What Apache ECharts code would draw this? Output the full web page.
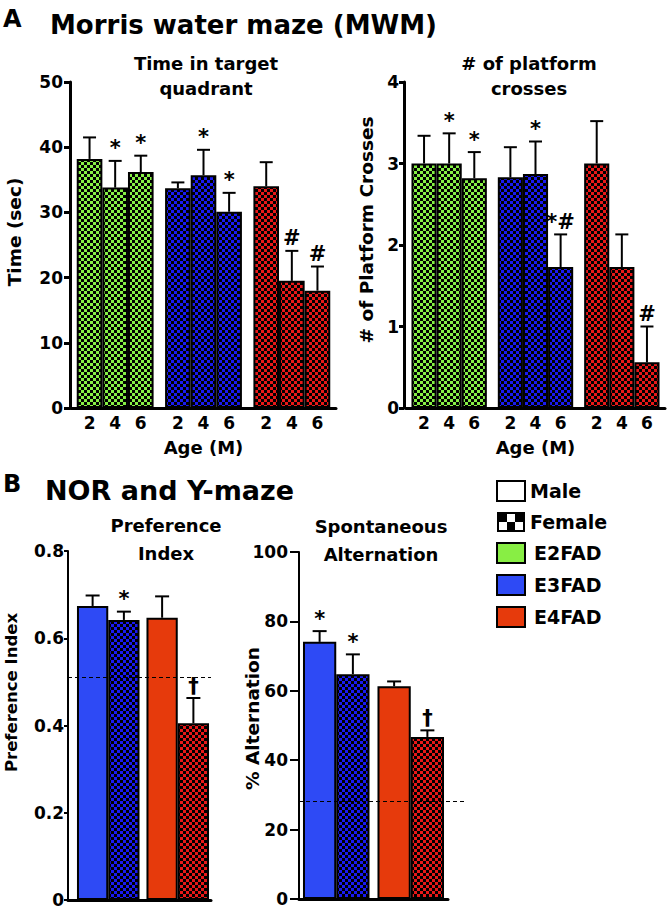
<!DOCTYPE html>
<html>
<head>
<meta charset="utf-8">
<script src="https://cdn.jsdelivr.net/npm/echarts@6/dist/echarts.min.js"></script>
<style>
html,body{margin:0;padding:0;background:#fff;}
#chart{width:667px;height:911px;}
</style>
</head>
<body>
<div id="chart"></div>
<script>
// ---------------- DATA ----------------
const mwmGroups = ['E2FAD', 'E3FAD', 'E4FAD'];
const ageLabels = ['2', '4', '6'];

// Time in target quadrant (sec): mean and SEM per genotype, ages 2/4/6 M
const timeMean = [[38.2, 33.8, 36.2], [33.7, 35.7, 30.1], [34.0, 19.5, 18.0]];
const timeSem  = [[3.3, 4.1, 2.5], [0.9, 3.9, 2.9], [3.7, 4.6, 3.7]];
const timeMarks = [['', '*', '*'], ['', '*', '*'], ['', '#', '#']];

// # of platform crosses
const crossMean = [[3.0, 3.0, 2.82], [2.83, 2.87, 1.73], [3.0, 1.73, 0.56]];
const crossSem  = [[0.34, 0.37, 0.32], [0.37, 0.40, 0.40], [0.52, 0.40, 0.44]];
const crossMarks = [['', '*', '*'], ['', '*', '*#'], ['', '', '#']];

const norGroups = ['E3FAD', 'E4FAD'];
const sexes = ['Male', 'Female'];

// Preference index (NOR): per sex, per genotype
const prefMean = [[0.674, 0.647], [0.642, 0.405]];
const prefSem  = [[0.024, 0.049], [0.019, 0.058]];
const prefMarks = [['', ''], ['*', '\u2020']];
const prefChance = 0.508;

// Spontaneous alternation (%)
const altMean = [[74.1, 61.3], [64.8, 46.7]];
const altSem  = [[3.1, 1.4], [5.7, 1.9]];
const altMarks = [['*', ''], ['*', '\u2020']];
const altChance = 28.2;

const timeTicks = {min: 0, max: 50, interval: 10};
const crossTicks = {min: 0, max: 4, interval: 1};
const prefTicks = {min: 0, max: 0.8, interval: 0.2};
const altTicks = {min: 0, max: 100, interval: 20};

// ---------------- STYLE ----------------
const FONT = 'DejaVu Sans';
const genoChecker = {E2FAD: '#86F045', E3FAD: '#1A1AF2', E4FAD: '#E81818'};
const genoSolid = {E2FAD: '#88EE44', E3FAD: '#2E4AF5', E4FAD: '#E63A0C'};

function checker(color) {
  const s = 3;
  const c = document.createElement('canvas');
  c.width = c.height = 2 * s;
  const g = c.getContext('2d');
  g.fillStyle = color; g.fillRect(0, 0, 2 * s, 2 * s);
  g.fillStyle = '#000'; g.fillRect(0, 0, s, s); g.fillRect(s, s, s, s);
  return {image: c.toDataURL(), repeat: 'repeat', imageWidth: 2 * s, imageHeight: 2 * s};
}
function femaleIcon() {
  const c = document.createElement('canvas');
  c.width = 28; c.height = 20;
  const g = c.getContext('2d');
  g.fillStyle = '#fff'; g.fillRect(0, 0, 28, 20);
  g.fillStyle = '#000';
  const cw = 24 / 3, ch = 16 / 2;
  for (let r = 0; r < 2; r++) for (let q = 0; q < 3; q++)
    if ((r + q) % 2 === 0) g.fillRect(2 + q * cw, 2 + r * ch, cw, ch);
  g.lineWidth = 2; g.strokeStyle = '#000'; g.strokeRect(1, 1, 26, 18);
  return 'image://' + c.toDataURL();
}

function errorBars(axisIdx, k, n, gapFrac, data, marks, capW, lw) {
  return {
    type: 'custom', xAxisIndex: axisIdx, yAxisIndex: axisIdx, data: data,
    encode: {x: 0, y: [1, 2]}, z: 5, silent: true,
    renderItem: function (params, api) {
      const band = api.size([1, 0])[0];
      const bw = band * (1 - gapFrac) / n;
      const off = (k - (n - 1) / 2) * bw;
      const base = api.coord([api.value(0), api.value(1)]);
      const tip = api.coord([api.value(0), api.value(2)]);
      const x = base[0] + off;
      const children = [
        {type: 'line', shape: {x1: x, y1: base[1], x2: x, y2: tip[1]}, style: {stroke: '#000', lineWidth: lw}},
        {type: 'line', shape: {x1: x - capW / 2, y1: tip[1], x2: x + capW / 2, y2: tip[1]}, style: {stroke: '#000', lineWidth: lw}}
      ];
      const t = marks[params.dataIndex];
      if (t) children.push({type: 'text', x: x, y: tip[1] - 2, style: {text: t, textAlign: 'center', textVerticalAlign: 'bottom', fontSize: 21, fontWeight: 'bold', fontFamily: FONT, fill: '#000'}});
      return {type: 'group', children: children};
    }
  };
}

const series = [];
const gapA1 = 0.13, gapA2 = 0.127, gapB1 = 0.10, gapB2 = 0.107;

function mwmSeries(axisIdx, gap, mean, sem, marks) {
  ageLabels.forEach(function (age, k) {
    series.push({
      type: 'bar', xAxisIndex: axisIdx, yAxisIndex: axisIdx, name: 'age' + age,
      barGap: '0%', barCategoryGap: (gap * 100) + '%',
      itemStyle: {borderColor: '#000', borderWidth: 2},
      label: {show: true, position: 'bottom', distance: 6, formatter: age, fontSize: 17, fontWeight: 'bold', fontFamily: FONT, color: '#000'},
      data: mwmGroups.map(function (g, gi) { return {value: mean[gi][k], itemStyle: {color: checker(genoChecker[g])}}; })
    });
  });
  ageLabels.forEach(function (age, k) {
    series.push(errorBars(axisIdx, k, ageLabels.length, gap,
      mwmGroups.map(function (g, gi) { return [gi, mean[gi][k], mean[gi][k] + sem[gi][k]]; }),
      mwmGroups.map(function (g, gi) { return marks[gi][k]; }), 13, 2));
  });
}
function sexSeries(axisIdx, gap, mean, sem, marks) {
  sexes.forEach(function (s, k) {
    series.push({
      type: 'bar', xAxisIndex: axisIdx, yAxisIndex: axisIdx, name: 'nor' + s,
      barGap: '0%', barCategoryGap: (gap * 100) + '%',
      itemStyle: {borderColor: '#000', borderWidth: 2},
      data: norGroups.map(function (g, gi) {
        return {value: mean[k][gi], itemStyle: {color: k === 0 ? genoSolid[g] : checker(genoChecker[g])}};
      })
    });
  });
  sexes.forEach(function (s, k) {
    series.push(errorBars(axisIdx, k, sexes.length, gap,
      norGroups.map(function (g, gi) { return [gi, mean[k][gi], mean[k][gi] + sem[k][gi]]; }),
      marks[k], 14, 2));
  });
}

mwmSeries(0, gapA1, timeMean, timeSem, timeMarks);
mwmSeries(1, gapA2, crossMean, crossSem, crossMarks);
sexSeries(3, gapB1, prefMean, prefSem, prefMarks);
sexSeries(4, gapB2, altMean, altSem, altMarks);

const dashed = {symbol: 'none', silent: true, label: {show: false}, lineStyle: {color: '#000', type: [4, 3], width: 1}};
series.push({type: 'line', name: 'prefChance', xAxisIndex: 2, yAxisIndex: 2, data: [],
  markLine: Object.assign({data: [{yAxis: prefChance}]}, dashed)});
series.push({type: 'line', name: 'altChance', xAxisIndex: 5, yAxisIndex: 5, data: [],
  markLine: Object.assign({data: [{yAxis: altChance}]}, dashed)});

// legend-only series
const legendNames = ['Male', 'Female'].concat(mwmGroups);
const legendColors = {Male: '#ffffff', Female: '#000000', E2FAD: genoSolid.E2FAD, E3FAD: genoSolid.E3FAD, E4FAD: genoSolid.E4FAD};
legendNames.forEach(function (nm) {
  series.push({type: 'bar', name: nm, xAxisIndex: 5, yAxisIndex: 5, data: [], itemStyle: {color: legendColors[nm]}});
});

// ---------------- AXES ----------------
function nameStyle(size, shiftUp) {
  return {fontSize: size, fontWeight: 'bold', fontFamily: FONT, color: '#000', padding: [0, 0, 0, 2 * shiftUp]};
}
const labStyle = {fontSize: 17, fontWeight: 'bold', fontFamily: FONT, color: '#000'};
function valAxis(grid, ticks, name, gap, offset, lw, tickLen, margin, show, nStyle) {
  return {
    type: 'value', gridIndex: grid, min: ticks.min, max: ticks.max, interval: ticks.interval,
    show: show, offset: offset, name: name, nameLocation: 'middle', nameGap: gap,
    nameMoveOverlap: false, nameTextStyle: nStyle || nameStyle(18, 0),
    axisLine: {show: true, lineStyle: {color: '#000', width: lw}},
    axisTick: {show: true, length: tickLen, lineStyle: {color: '#000', width: lw}},
    axisLabel: Object.assign({margin: margin}, labStyle),
    splitLine: {show: false}
  };
}
function catAxis(grid, cats, name, lw, show) {
  return {
    type: 'category', gridIndex: grid, data: cats, show: show,
    name: name, nameLocation: 'middle', nameGap: 30, nameMoveOverlap: false, nameTextStyle: nameStyle(18, 0),
    axisLine: {show: true, onZero: false, lineStyle: {color: '#000', width: lw}},
    axisTick: {show: false}, axisLabel: {show: false}, splitLine: {show: false}
  };
}
function frameX(grid, showLine) {
  return {type: 'value', gridIndex: grid, min: 0, max: 1, show: showLine,
    axisLine: {show: showLine, onZero: false, lineStyle: {color: '#000', width: 3}},
    axisTick: {show: false}, axisLabel: {show: false}, splitLine: {show: false}};
}

const option = {
  animation: false,
  backgroundColor: '#fff',
  textStyle: {fontFamily: FONT, fontWeight: 'bold', color: '#000'},
  title: [
    {text: 'A', left: 3, top: 5, padding: 0, textStyle: {fontSize: 24, lineHeight: 28, fontWeight: 'bold', fontFamily: FONT, color: '#000'}},
    {text: 'Morris water maze (MWM)', left: 50, top: 10, padding: 0, textStyle: {fontSize: 26, lineHeight: 30, fontWeight: 'bold', fontFamily: FONT, color: '#000'}},
    {text: 'Time in target\nquadrant', left: 206, top: 51, padding: 0, textAlign: 'center', textStyle: {fontSize: 18, lineHeight: 25, fontWeight: 'bold', fontFamily: FONT, color: '#000'}},
    {text: '# of platform\ncrosses', left: 529, top: 51, padding: 0, textAlign: 'center', textStyle: {fontSize: 18, lineHeight: 25, fontWeight: 'bold', fontFamily: FONT, color: '#000'}},
    {text: 'B', left: 3, top: 470, padding: 0, textStyle: {fontSize: 24, lineHeight: 28, fontWeight: 'bold', fontFamily: FONT, color: '#000'}},
    {text: 'NOR and Y-maze', left: 45, top: 475, padding: 0, textStyle: {fontSize: 27, lineHeight: 30, fontWeight: 'bold', fontFamily: FONT, color: '#000'}},
    {text: 'Preference\nIndex', left: 166, top: 511, padding: 0, textAlign: 'center', textStyle: {fontSize: 18, lineHeight: 28, fontWeight: 'bold', fontFamily: FONT, color: '#000'}},
    {text: 'Spontaneous\nAlternation', left: 381, top: 512, padding: 0, textAlign: 'center', textStyle: {fontSize: 18, lineHeight: 28, fontWeight: 'bold', fontFamily: FONT, color: '#000'}}
  ],
  legend: {
    orient: 'vertical', left: 496, top: 480, padding: 0, itemWidth: 28, itemHeight: 20, itemGap: 10,
    selectedMode: false, icon: 'rect',
    itemStyle: {borderColor: '#000', borderWidth: 2},
    textStyle: {fontSize: 19, fontWeight: 'bold', fontFamily: FONT, color: '#000', lineHeight: 20},
    data: legendNames.map(function (nm) {
      const d = {name: nm};
      if (nm === 'Female') d.icon = femaleIcon();
      if (mwmGroups.indexOf(nm) >= 0) d.textStyle = {padding: [0, 0, 0, 4]};
      return d;
    })
  },
  grid: [
    {left: 71, top: 82, width: 265, height: 326},
    {left: 406, top: 82, width: 259, height: 326},
    {left: 68, top: 551, width: 143, height: 349},
    {left: 73.5, top: 551, width: 139, height: 349},
    {left: 299, top: 552, width: 149, height: 347},
    {left: 299, top: 552, width: 166, height: 347}
  ],
  xAxis: [
    catAxis(0, mwmGroups, 'Age (M)', 3, true),
    catAxis(1, mwmGroups, 'Age (M)', 3, true),
    frameX(2, true),
    catAxis(3, norGroups, '', 3, false),
    catAxis(4, norGroups, '', 3, true),
    frameX(5, false)
  ],
  yAxis: [
    valAxis(0, timeTicks, 'Time (sec)', 46, 1, 3, 6, 7, true, nameStyle(18.5, 13)),
    valAxis(1, crossTicks, '# of Platform Crosses', 28, 2, 3, 5, 5, true, nameStyle(18.5, 15)),
    valAxis(2, prefTicks, 'Preference Index', 48, 0, 2, 4, 4, true, nameStyle(16.5, 33)),
    valAxis(3, prefTicks, '', 10, 0, 2, 4, 4, false),
    valAxis(4, altTicks, '% Alternation', 37, 0, 2, 9, 11, true, nameStyle(18.5, 7)),
    valAxis(5, altTicks, '', 10, 0, 2, 4, 4, false)
  ],
  series: series
};

const chart = echarts.init(document.getElementById('chart'), null, {renderer: 'svg', width: 667, height: 911});
chart.setOption(option);
</script>
</body>
</html>
